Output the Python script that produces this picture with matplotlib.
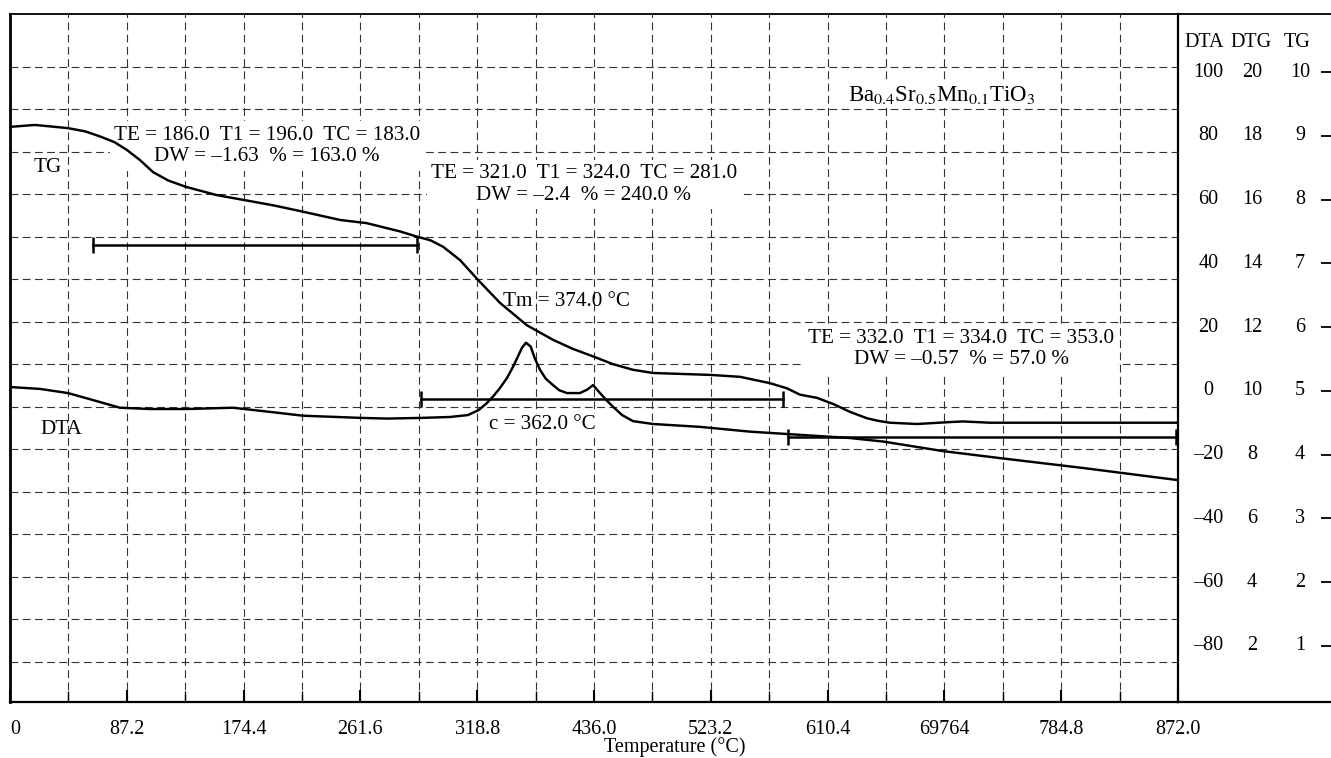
import numpy as np
import matplotlib.pyplot as plt

plt.rcParams['font.family'] = ['Liberation Serif', 'DejaVu Serif']
plt.rcParams['mathtext.fontset'] = 'stix'

# temperature axis, labels exactly as printed on the original
tick_pos = [0, 87.2, 174.4, 261.6, 348.8, 436.0, 523.2, 610.4, 697.6, 784.8, 872.0]
tick_labels = ['0', '87.2', '174.4', '261.6', '318.8', '436.0', '523.2', '610.4',
               '69764', '784.8', '872.0']

# TG curve (TG scale)
tg_temp = [0, 18.7, 43.3, 56.0, 67.2, 78.0, 87.1, 97.0, 106.8, 118.0, 131.2, 154.3,
           175.4, 196.4, 218.7, 246.4, 266.3, 291.2, 303.6, 314.0, 323.3, 336.0,
           349.4, 365.8, 385.8, 405.4, 420.0, 435.3, 450.0, 465.1, 480.0, 522.6,
           545.0, 567.4, 580.0, 589.8, 602.5, 615.0, 627.1, 639.8, 648.0, 657.0,
           677.1, 701.8, 711.5, 731.6, 872.0]
tg_vals = [9.14, 9.17, 9.12, 9.07, 8.99, 8.90, 8.78, 8.62, 8.43, 8.30, 8.20, 8.07,
           7.99, 7.91, 7.81, 7.68, 7.63, 7.50, 7.42, 7.36, 7.26, 7.05,
           6.74, 6.38, 6.03, 5.80, 5.66, 5.54, 5.42, 5.33, 5.28, 5.25,
           5.22, 5.12, 5.04, 4.94, 4.89, 4.79, 4.67, 4.57, 4.53, 4.50,
           4.48, 4.51, 4.52, 4.50, 4.50]

# DTA curve (DTA scale)
dta_temp = [0, 22.4, 43.3, 62.0, 82.1, 104.5, 132.1, 166.5, 191.9, 218.7, 262.8,
            281.5, 306.1, 328.5, 341.9, 350.0, 356.1, 361.0, 365.8, 371.0, 375.5,
            379.0, 382.2, 385.2, 388.7, 392.0, 395.7, 400.0, 405.4, 410.0, 415.8,
            425.5, 431.0, 435.3, 440.5, 445.0, 450.2, 457.0, 465.1, 480.0, 515.1,
            552.5, 589.8, 627.1, 651.8, 696.5, 739.1, 801.1, 872.0]
dta_vals = [1.2, 0.6, -0.7, -2.9, -5.3, -5.7, -5.7, -5.3, -6.5, -7.8, -8.5,
            -8.7, -8.5, -8.2, -7.6, -6.0, -3.8, -1.6, 0.9, 4.0, 7.5,
            10.6, 13.5, 15.1, 13.9, 10.0, 6.6, 3.8, 1.8, 0.2, -0.7,
            -0.7, 0.4, 1.8, -0.7, -2.8, -5.0, -7.6, -9.5, -10.4, -11.3,
            -12.8, -13.8, -14.8, -15.9, -18.9, -21.1, -24.2, -28.0]

# weight-loss step brackets (TG scale)
step_start = [62.0, 306.5, 581.0]
step_end = [303.6, 577.0, 870.5]
step_level = [7.29, 4.87, 4.27]

# right-hand scales
dta_ticks = [100, 80, 60, 40, 20, 0, -20, -40, -60, -80]
dtg_ticks = [20, 18, 16, 14, 12, 10, 8, 6, 4, 2]
tg_ticks = [10, 9, 8, 7, 6, 5, 4, 3, 2, 1]

dta_lim = (-97.6, 118.2)
fs = 14.5
fa = 15.2

fig = plt.figure(figsize=(13.31, 7.58), dpi=100)
W, H = 1331, 758
ax = fig.add_axes([10 / W, 1 - 702 / H, 1168 / W, 688 / H])
side = fig.add_axes([1178 / W, 1 - 702 / H, 153 / W, 688 / H])

ax.set_xlim(0, 872)
ax.set_ylim(*dta_lim)
tg = ax.twinx()
tg.set_ylim(5 + dta_lim[0] / 20, 5 + dta_lim[1] / 20)
tg.set_yticks([])
for s in tg.spines.values():
    s.set_visible(False)

# grid
ax.set_xticks(tick_pos)
ax.set_xticklabels(tick_labels, fontsize=fs)
ax.set_xticks(np.arange(43.6, 872, 87.2), minor=True)
ax.set_yticks(np.linspace(-85, 101.67, 15))
ax.set_yticklabels([])
ax.tick_params(axis='y', length=0)
ax.tick_params(axis='x', which='both', direction='in', pad=13)
ax.tick_params(axis='x', which='major', length=9, width=1.5)
ax.tick_params(axis='x', which='minor', length=8, width=1.0)
ax.xaxis.get_majorticklabels()[0].set_horizontalalignment('left')
ax.grid(which='both', axis='both', color='#333333', lw=0.8, ls=(0, (7, 4)))
ax.set_axisbelow(True)
ax.set_xlabel('Temperature (\u00b0C)', fontsize=fs, va='center')
ax.xaxis.set_label_coords(0.569, -0.0654)

for name, lw in [('left', 2.0), ('top', 1.3), ('bottom', 1.6), ('right', 1.6)]:
    ax.spines[name].set_linewidth(lw)

# curves
tg.plot(tg_temp, tg_vals, color='black', lw=1.75, zorder=3)
ax.plot(dta_temp, dta_vals, color='black', lw=1.75, zorder=3)
for s0, s1, lv in zip(step_start, step_end, step_level):
    tg.plot([s0, s1], [lv, lv], color='black', lw=1.8, marker='|', ms=12, mew=1.8, zorder=3)

box = dict(fc='white', ec='none', pad=3)
ax.text(191.9, 76.8, 'TE = 186.0  T1 = 196.0  TC = 183.0\nDW = \u20131.63  % = 163.0 %',
        ha='center', va='center', fontsize=fa, linespacing=1.2, bbox=box, zorder=2)
ax.text(428.5, 64.7, 'TE = 321.0  T1 = 324.0  TC = 281.0\nDW = \u20132.4  % = 240.0 %',
        ha='center', va='center', fontsize=fa, linespacing=1.2, bbox=box, zorder=2)
ax.text(710.0, 13.1, 'TE = 332.0  T1 = 334.0  TC = 353.0\nDW = \u20130.57  % = 57.0 %',
        ha='center', va='center', fontsize=fa, linespacing=1.2, bbox=box, zorder=2)
ax.text(415.8, 28.0, 'Tm = 374.0 \u00b0C', ha='center', va='center', fontsize=fa, zorder=2)
ax.text(397.2, -10.7, 'c = 362.0 \u00b0C', ha='center', va='center', fontsize=fa,
        bbox=dict(fc='white', ec='none', pad=1), zorder=2)
ax.text(28.4, 69.9, 'TG', ha='center', va='center', fontsize=fa)
ax.text(38.1, -12.0, 'DTA', ha='center', va='center', fontsize=fa)
ax.text(695.8, 92.8, r'Ba$_{0.4}$Sr$_{0.5}$Mn$_{0.1}$TiO$_3$', ha='center', va='center',
        fontsize=16.5, bbox=dict(fc='white', ec='none', pad=1), zorder=2)

# right-hand scale panel
side.set_xlim(0, 1)
side.set_ylim(*dta_lim)
side.set_xticks([])
side.yaxis.tick_right()
side.set_yticks(dta_ticks)
side.set_yticklabels([])
side.tick_params(axis='y', direction='in', length=7, width=1.3)
side.spines['right'].set_visible(False)
side.spines['left'].set_visible(False)
side.spines['top'].set_linewidth(1.3)
side.spines['bottom'].set_linewidth(1.6)
side.patch.set_alpha(0)

for xc, head in [(0.17, 'DTA'), (0.477, 'DTG'), (0.778, 'TG')]:
    side.text(xc, 109.4, head, ha='center', va='center', fontsize=fs)
for a, b, c in zip(dta_ticks, dtg_ticks, tg_ticks):
    lab = str(a).replace('-', '\u2013')
    side.text(0.2, a, lab, ha='center', va='center', fontsize=fs)
    side.text(0.484, a, str(b), ha='center', va='center', fontsize=fs)
    side.text(0.797, a, str(c), ha='center', va='center', fontsize=fs)

fig.savefig('out.png', dpi=100)
